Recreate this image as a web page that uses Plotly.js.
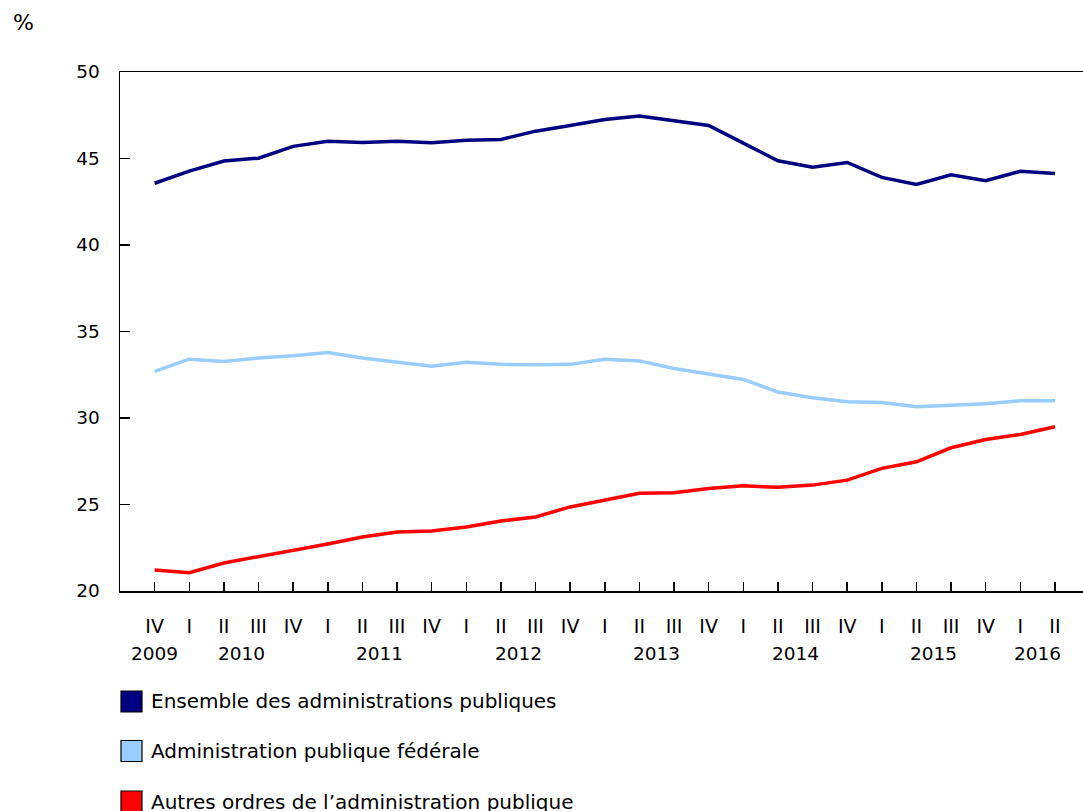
<!DOCTYPE html>
<html>
<head>
<meta charset="utf-8">
<script src="https://cdn.plot.ly/plotly-3.0.1.min.js"></script>
<style>html,body{margin:0;padding:0;background:#fff;}#chart{width:1083px;height:811px;}</style>
</head>
<body>
<div id="chart"></div>
<script>
const quarterLabels = ["IV","I","II","III","IV","I","II","III","IV","I","II","III","IV","I","II","III","IV","I","II","III","IV","I","II","III","IV","I","II"];
const yearLabels = ["2009","2010","2011","2012","2013","2014","2015","2016"];
const yearCenters = [0, 2.5, 6.5, 10.5, 14.5, 18.5, 22.5, 25.5];

const seriesNames = ["Ensemble des administrations publiques", "Administration publique fédérale", "Autres ordres de l’administration publique"];
const seriesColors = ["#000080", "#99CCFF", "#FF0000"];

const ensemble = [43.57,44.27,44.85,45.02,45.70,45.99,45.93,46.00,45.91,46.06,46.10,46.58,46.91,47.25,47.45,47.16,46.91,45.89,44.87,44.49,44.77,43.91,43.50,44.06,43.72,44.26,44.14];
const federale = [32.70,33.40,33.27,33.47,33.60,33.79,33.47,33.24,32.99,33.22,33.10,33.08,33.10,33.40,33.30,32.86,32.53,32.23,31.50,31.17,30.94,30.90,30.65,30.74,30.82,31.00,31.00];
const autres = [21.22,21.06,21.62,21.97,22.37,22.72,23.12,23.41,23.47,23.70,24.05,24.28,24.86,25.26,25.65,25.68,25.93,26.08,25.99,26.12,26.41,27.09,27.47,28.28,28.76,29.05,29.49];

const seriesValues = [ensemble, federale, autres];
const xIdx = quarterLabels.map((_, i) => i);

const FONT = "DejaVu Sans, Verdana, sans-serif";

const traces = seriesValues.map((vals, k) => ({
  type: "scatter",
  mode: "lines",
  x: xIdx,
  y: vals,
  name: seriesNames[k],
  line: {color: seriesColors[k], width: 3.5},
  showlegend: false,
  hoverinfo: "y"
}));

const annotations = [];
yearLabels.forEach((t, i) => {
  annotations.push({
    text: t, x: yearCenters[i], xref: "x", y: -0.1195, yref: "paper",
    xanchor: "center", yanchor: "middle", showarrow: false,
    font: {family: FONT, size: 18.5, color: "#000"}
  });
});
annotations.push({
  text: "%", x: -0.0997, xref: "paper", y: 1.096, yref: "paper",
  xanchor: "center", yanchor: "middle", showarrow: false,
  font: {family: FONT, size: 22, color: "#000"}
});

const shapes = [];
const legendY = [-0.2129, -0.3083, -0.4056];
seriesNames.forEach((n, k) => {
  shapes.push({
    type: "rect", xref: "paper", xsizemode: "pixel", xanchor: 0, x0: 1, x1: 22,
    yref: "paper", ysizemode: "pixel", yanchor: legendY[k], y0: -10.5, y1: 10.5,
    fillcolor: seriesColors[k], line: {color: "#000", width: 1.2}
  });
  annotations.push({
    text: n, x: 0.0301, xref: "paper", y: legendY[k], yref: "paper",
    xanchor: "left", yanchor: "middle", showarrow: false,
    font: {family: FONT, size: 20, color: "#000"}
  });
});

const layout = {
  width: 1083, height: 811,
  margin: {l: 120, r: 0, t: 72, b: 220, pad: 0},
  paper_bgcolor: "#fff", plot_bgcolor: "#fff",
  font: {family: FONT, size: 18, color: "#000"},
  showlegend: false,
  xaxis: {
    range: [-1, 26.81], tickmode: "array", tickvals: xIdx, ticktext: quarterLabels,
    ticks: "inside", ticklen: 9, tickwidth: 1.5, tickcolor: "#000",
    showline: true, linecolor: "#000", linewidth: 1.5, mirror: true,
    showgrid: false, zeroline: false, ticklabelstandoff: 18,
    tickfont: {family: FONT, size: 19, color: "#000"}, fixedrange: true
  },
  yaxis: {
    range: [20, 50], tickmode: "linear", tick0: 20, dtick: 5,
    ticks: "inside", ticklen: 10, tickwidth: 1.5, tickcolor: "#000",
    showline: true, linecolor: "#000", linewidth: 1.5, mirror: false,
    showgrid: false, zeroline: false, ticklabelstandoff: 15,
    tickfont: {family: FONT, size: 18.5, color: "#000"}, fixedrange: true
  },
  annotations: annotations,
  shapes: shapes
};

Plotly.newPlot("chart", traces, layout, {displayModeBar: false, staticPlot: true});
</script>
</body>
</html>
